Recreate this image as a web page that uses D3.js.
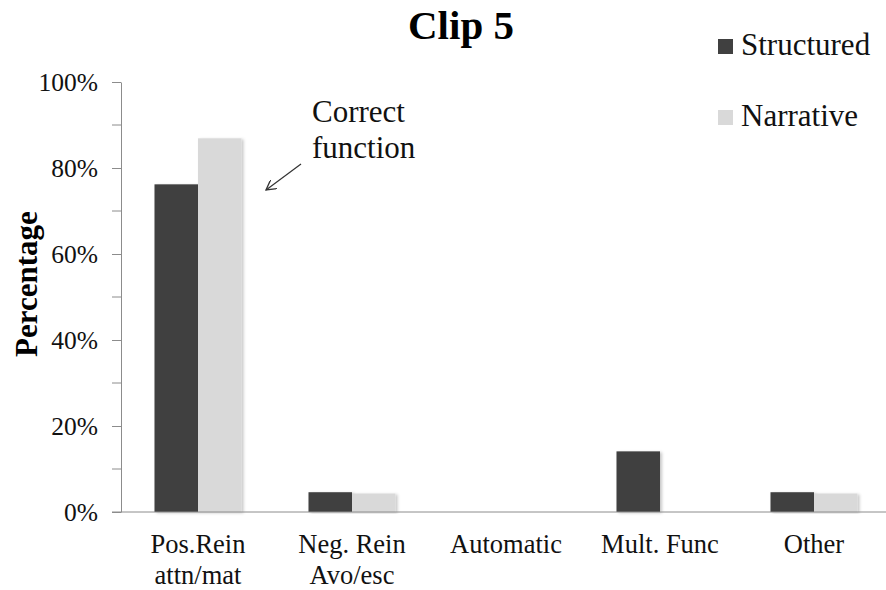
<!DOCTYPE html>
<html>
<head>
<meta charset="utf-8">
<script src="https://cdn.jsdelivr.net/npm/d3@7"></script>
<style>
  body { margin: 0; background: #fff; }
</style>
</head>
<body>
<svg id="chart" width="886" height="590"></svg>
<script>
// Category labels (two lines each where needed)
const categories = ["Pos.Rein|attn/mat", "Neg. Rein|Avo/esc", "Automatic", "Mult. Func", "Other"];
const seriesNames = ["Structured", "Narrative"];
const structured = [76.2, 4.6, 0, 14.1, 4.6];
const narrative = [86.9, 4.3, 0, 0, 4.3];
const yTicks = [0, 20, 40, 60, 80, 100];
const colors = ["#404040", "#d9d9d9"];

const FONT = "'Liberation Serif', 'DejaVu Serif', serif";
const svg = d3.select("#chart");
const plotLeft = 121, plotRight = 891, plotTop = 82, plotBottom = 512;

const x = d3.scaleBand().domain(categories).range([plotLeft, plotRight]).paddingInner(0.435).paddingOuter(0.2175);
const xs = d3.scaleBand().domain(seriesNames).range([0, x.bandwidth()]);
const y = d3.scaleLinear().domain([0, 100]).range([plotBottom, plotTop]);

const defs = svg.append("defs");
const f = defs.append("filter").attr("id", "shadow").attr("x", "-10%").attr("y", "-10%").attr("width", "130%").attr("height", "120%");
f.append("feDropShadow").attr("dx", 2).attr("dy", 1).attr("stdDeviation", 1.5).attr("flood-color", "#000").attr("flood-opacity", 0.22);

// Title
svg.append("text").attr("x", 461).attr("y", 39).attr("text-anchor", "middle")
  .style("font-family", FONT).attr("font-size", 41).attr("font-weight", "bold").attr("fill", "#000").text("Clip 5");

// Y axis with minor ticks
const yAxis = d3.axisLeft(y).tickValues(yTicks).tickFormat(d => d + "%").tickSize(9).tickSizeOuter(0);
const gy = svg.append("g").attr("transform", `translate(${plotLeft},0)`).call(yAxis);
gy.selectAll(".domain").attr("stroke", "#8c8c8c");
gy.selectAll(".tick line").attr("stroke", "#8c8c8c");
gy.selectAll(".tick text").style("font-family", FONT).attr("font-size", 25.5).attr("fill", "#111").attr("x", -23).attr("dy", "0.33em");
svg.append("g").selectAll("line").data([10, 30, 50, 70, 90]).join("line")
  .attr("x1", plotLeft - 9).attr("x2", plotLeft).attr("y1", d => y(d)).attr("y2", d => y(d)).attr("stroke", "#8c8c8c");

// Bars
const rows = categories.map((c, i) => ({ c, vals: [structured[i], narrative[i]] }));
const groups = svg.append("g").selectAll("g").data(rows).join("g").attr("transform", d => `translate(${x(d.c)},0)`);
groups.selectAll("rect").data(d => d.vals.map((v, j) => ({ v, s: seriesNames[j], j })).filter(d => d.v > 0)).join("rect")
  .attr("x", d => xs(d.s)).attr("width", xs.bandwidth())
  .attr("y", d => y(d.v)).attr("height", d => y(0) - y(d.v))
  .attr("fill", d => colors[d.j]).attr("filter", "url(#shadow)");

// X axis line
svg.append("line").attr("x1", plotLeft - 9).attr("x2", 886).attr("y1", plotBottom).attr("y2", plotBottom).attr("stroke", "#8c8c8c");

// X labels
const xl = svg.append("g").selectAll("text").data(categories).join("text")
  .attr("x", d => x(d) + x.bandwidth() / 2).attr("y", 553).style("font-family", FONT)
  .attr("text-anchor", "middle").attr("font-size", 26.5).attr("fill", "#111");
xl.selectAll("tspan").data(d => d.split("|")).join("tspan")
  .attr("x", function() { return d3.select(this.parentNode).attr("x"); })
  .attr("dy", (d, i) => i === 0 ? 0 : 31).text(d => d);

// Y axis title
svg.append("text").attr("transform", "translate(37,284) rotate(-90)").attr("text-anchor", "middle")
  .style("font-family", FONT).attr("font-size", 31).attr("font-weight", "bold").attr("fill", "#000").text("Percentage");

// Legend
const lg = svg.append("g").selectAll("g").data(seriesNames).join("g")
  .attr("transform", (d, i) => `translate(718,${55 + i * 71})`);
lg.append("rect").attr("x", 0).attr("y", -16).attr("width", 15).attr("height", 15).attr("fill", (d, i) => colors[i]);
lg.append("text").attr("x", 23).attr("y", 0).style("font-family", FONT).attr("font-size", 31).attr("fill", "#111").text(d => d);

// Annotation
svg.append("text").attr("x", 312).attr("y", 122).style("font-family", FONT).attr("font-size", 31).attr("fill", "#111")
  .selectAll("tspan").data(["Correct", "function"]).join("tspan")
  .attr("x", 312).attr("dy", (d, i) => i === 0 ? 0 : 36).text(d => d);
defs.append("marker").attr("id", "arrow").attr("viewBox", "0 0 10 10").attr("refX", 9).attr("refY", 5)
  .attr("markerWidth", 9).attr("markerHeight", 9).attr("orient", "auto")
  .append("path").attr("d", "M0,0 L9,5 L0,10").attr("fill", "none").attr("stroke", "#333").attr("stroke-width", 1.2);
svg.append("line").attr("x1", 301).attr("y1", 164).attr("x2", 266).attr("y2", 190)
  .attr("stroke", "#333").attr("stroke-width", 1.2).attr("marker-end", "url(#arrow)");
</script>
</body>
</html>
